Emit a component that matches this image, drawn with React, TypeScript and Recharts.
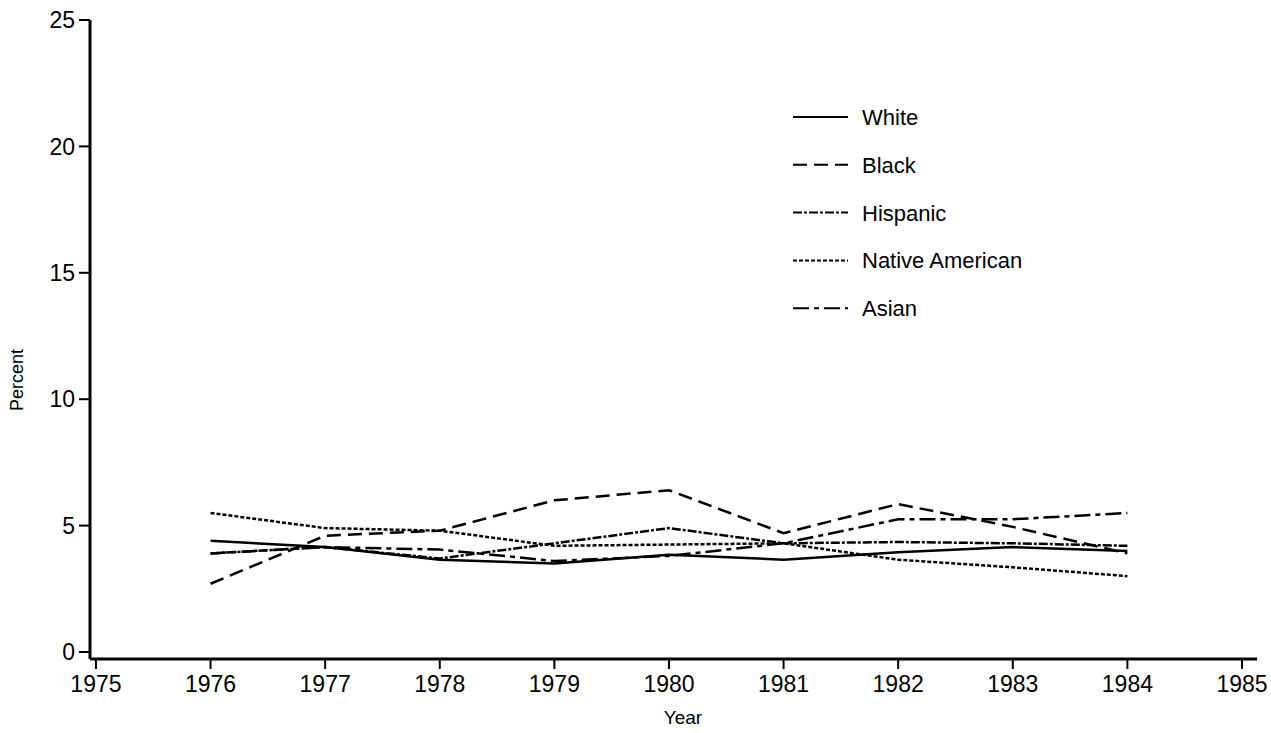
import React from 'react';
import { LineChart, Line, XAxis, YAxis, Legend } from 'recharts';

const years = [1976, 1977, 1978, 1979, 1980, 1981, 1982, 1983, 1984];
const white = [4.4, 4.15, 3.65, 3.5, 3.85, 3.65, 3.95, 4.15, 4.0];
const black = [2.7, 4.6, 4.8, 6.0, 6.4, 4.7, 5.85, 4.95, 3.9];
const hispanic = [3.9, 4.15, 3.7, 4.3, 4.9, 4.3, 4.35, 4.3, 4.2];
const nativeAmerican = [5.5, 4.9, 4.8, 4.2, 4.25, 4.3, 3.65, 3.35, 3.0];
const asian = [3.9, 4.15, 4.05, 3.6, 3.8, 4.3, 5.25, 5.25, 5.5];

const xTicks = [1975, 1976, 1977, 1978, 1979, 1980, 1981, 1982, 1983, 1984, 1985];
const yTicks = [0, 5, 10, 15, 20, 25];

const seriesNames = ['White', 'Black', 'Hispanic', 'Native American', 'Asian'];
const seriesDash = ['', '14 7', '9 2 3 2', '4 2', '16 5 5 5'];
const seriesValues = [white, black, hispanic, nativeAmerican, asian];

const data = years.map((year, i) => {
  const row: Record<string, number> = { year };
  seriesNames.forEach((n, k) => {
    row[n] = seriesValues[k][i];
  });
  return row;
});

const FONT = '"Liberation Sans", Arial, Helvetica, sans-serif';

const renderLegend = () => (
  <svg width={320} height={240} style={{ display: 'block' }}>
    {seriesNames.map((n, i) => {
      const y = 27 + i * 47.8;
      return (
        <g key={n}>
          <line x1={13} x2={68} y1={y} y2={y} stroke="#000" strokeWidth={2} strokeDasharray={seriesDash[i] || undefined} />
          <text x={82} y={y} dy="0.36em" fontSize={22} fontFamily={FONT} fill="#000">
            {n}
          </text>
        </g>
      );
    })}
  </svg>
);

export default function App() {
  return (
    <div style={{ position: 'absolute', left: 0, top: 0, background: '#fff' }}>
      <LineChart width={1271} height={733} data={data} margin={{ top: 20, right: 14, bottom: 0, left: 0 }}>
        <XAxis
          dataKey="year"
          type="number"
          domain={[1974.948, 1985.131]}
          ticks={xTicks}
          allowDataOverflow
          height={74}
          tickSize={10}
          tickMargin={7}
          axisLine={{ stroke: '#000', strokeWidth: 3 }}
          tickLine={{ stroke: '#000', strokeWidth: 2 }}
          tick={{ fill: '#000', fontSize: 23, fontFamily: FONT }}
          label={{
            content: () => (
              <text x={683} y={724} textAnchor="middle" fontSize={19} fontFamily={FONT} fill="#000">
                Year
              </text>
            ),
          }}
        />
        <YAxis
          type="number"
          domain={[-0.277, 25]}
          ticks={yTicks}
          allowDataOverflow
          width={90}
          tickSize={11}
          tickMargin={4}
          axisLine={{ stroke: '#000', strokeWidth: 3 }}
          tickLine={{ stroke: '#000', strokeWidth: 2 }}
          tick={{ fill: '#000', fontSize: 23, fontFamily: FONT }}
          label={{
            content: () => (
              <text
                x={17}
                y={380}
                dy="0.36em"
                textAnchor="middle"
                fontSize={18}
                fontFamily={FONT}
                fill="#000"
                transform="rotate(-90 17 380)"
              >
                Percent
              </text>
            ),
          }}
        />
        <Legend
          layout="vertical"
          align="center"
          verticalAlign="middle"
          content={renderLegend}
          wrapperStyle={{ left: 780, top: 90, width: 320, height: 240 }}
        />
        {seriesNames.map((n, i) => (
          <Line
            key={n}
            type="linear"
            dataKey={n}
            stroke="#000"
            strokeWidth={2.5}
            strokeDasharray={seriesDash[i] || undefined}
            dot={false}
            activeDot={false}
            isAnimationActive={false}
          />
        ))}
      </LineChart>
    </div>
  );
}
